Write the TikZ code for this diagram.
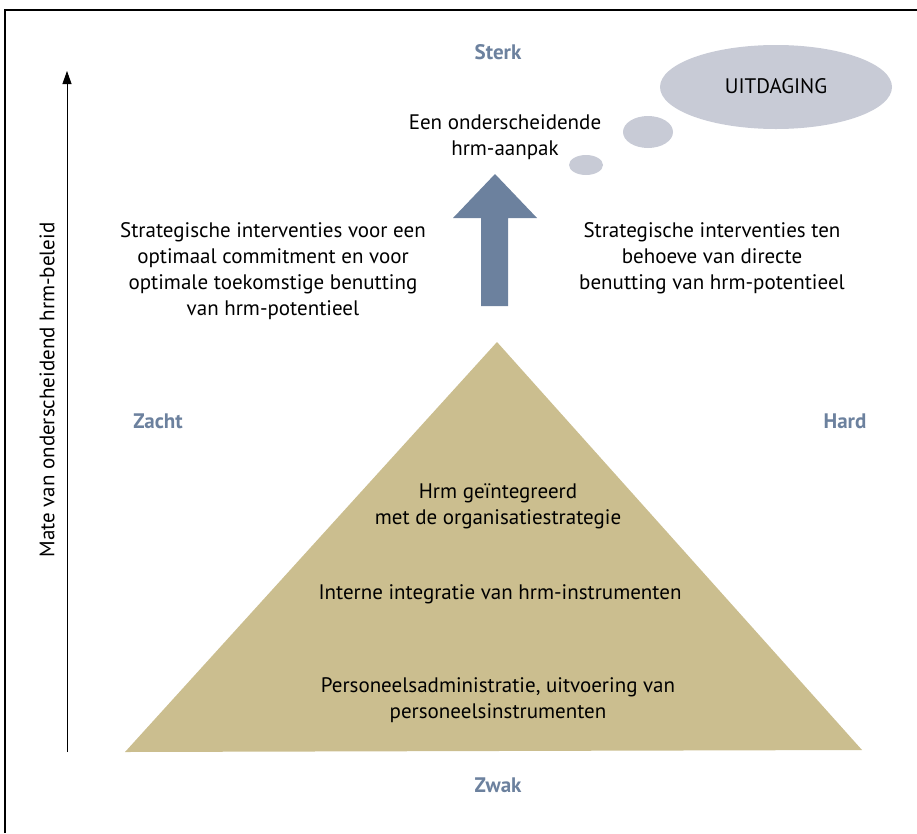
\documentclass[tikz,border=0pt]{standalone}
\usepackage{fontspec}
\setmainfont{PT Sans}
\usetikzlibrary{arrows.meta}

\definecolor{zand}{HTML}{CBBE8F}
\definecolor{leisteen}{HTML}{6C819E}
\definecolor{wolk}{HTML}{C8CBD6}

\begin{document}
\begin{tikzpicture}[x=1pt,y=-1pt,
    tekst/.style={align=center,font=\fontsize{21}{26}\selectfont},
    pool/.style={font=\fontsize{21}{24}\selectfont\bfseries,text=leisteen}]
    \useasboundingbox (0,0) rectangle (917,833);
    \coordinate (A) at (497,342);
    \coordinate (B) at (125,752);
    \coordinate (C) at (862,750);
    \coordinate (V) at (67,752);
    \coordinate (W) at (67,71);
    % kader
    \draw [line width=1.3pt] (5,833) -- (5,10) -- (917,10);
    % as
    \draw [line width=0.8pt, -{Triangle[length=13pt,width=9pt]}] (V) -- (W);
    \node [rotate=90, tekst] (as) at (47,390) {Mate van onderscheidend hrm-beleid};
    % piramide
    \fill [zand] (A) -- (B) -- (C) -- cycle;
    % pijl
    \fill [leisteen] (495,174) -- (537,218) -- (508,218) -- (508,306)
        -- (481,306) -- (481,218) -- (453,218) -- cycle;
    % wolkjes
    \fill [wolk] (586,165) ellipse (17 and 10);
    \fill [wolk] (648,132) ellipse (25 and 16);
    \fill [wolk] (776,87) ellipse (116 and 42);
    \node [tekst] (uit) at (776,86) {UITDAGING};
    % polen
    \node [pool] (sterk) at (498,52) {Sterk};
    \node [pool] (zwak) at (498,785) {Zwak};
    \node [pool] (zacht) at (158,421) {Zacht};
    \node [pool] (hard) at (845,421) {Hard};
    % teksten
    \node [tekst] (aanpak) at (505,137) {Een onderscheidende\\hrm-aanpak};
    \node [tekst] (links) at (273,271) {Strategische interventies voor een\\optimaal commitment en voor\\optimale toekomstige benutting\\van hrm-potentieel};
    \node [tekst] (rechts) at (712,258) {Strategische interventies ten\\behoeve van directe\\benutting van hrm-potentieel};
    \node [tekst] (top) at (498,506) {Hrm geïntegreerd\\met de organisatiestrategie};
    \node [tekst] (mid) at (500,594) {Interne integratie van hrm-instrumenten};
    \node [tekst] (bodem) at (498,700) {Personeelsadministratie, uitvoering van\\personeelsinstrumenten};
\end{tikzpicture}
\end{document}
